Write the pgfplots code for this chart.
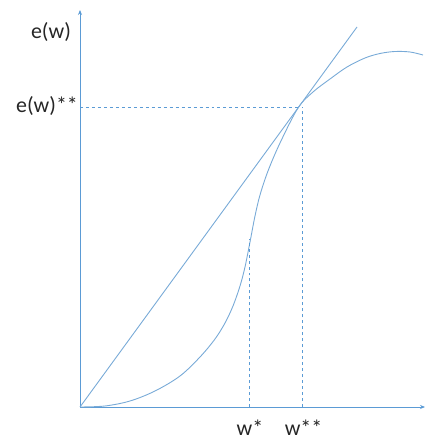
\documentclass[border=0pt]{standalone}
\usepackage{pgfplots}
\pgfplotsset{compat=1.18}
\usepackage{fontspec}
\setmainfont{Carlito}
\usetikzlibrary{arrows.meta}
\definecolor{axblue}{RGB}{91,155,213}
\definecolor{crv}{RGB}{120,170,215}
\begin{document}
\begin{tikzpicture}
\begin{axis}[
  scale only axis, width=345bp, height=397bp,
  xmin=0, xmax=345, ymin=0, ymax=397,
  axis lines=left, clip=false,
  axis line style={draw=axblue, line width=0.8pt, -{Stealth[length=5pt,width=4pt]}},
  xtick=\empty, ytick=\empty,
]
\path (axis cs:-80,-33) rectangle (axis cs:352,407);
% tangent line
\addplot[crv, line width=0.9pt] coordinates {(0,0) (277,380)};
% S curve
\addplot[crv, line width=0.9pt, smooth, tension=0.55] coordinates {
(0,0) (25,1) (50,6) (75,16) (100,31) (120,50) (135,68) (145,84) (153,101) (160,121) (165,140) (170,165) (175,191) (180,212) (188,236) (200,264) (218,299) (233,315) (250,328) (267,340) (285,349) (300,353.5) (315,355.5) (330,355) (343,352)
};
% dashed guides
\addplot[axblue, line width=0.7pt, dashed] coordinates {(0,300) (221,300)};
\addplot[axblue, line width=0.7pt, dashed] coordinates {(222,0) (222,300)};
\addplot[axblue, line width=0.7pt, dashed] coordinates {(169,0) (169,168)};
% labels
\node[font=\fontsize{22}{22}\selectfont, text=black!85] at (axis cs:-29,375) {e(w)};
\node[font=\fontsize{22}{22}\selectfont, text=black!85] at (axis cs:-33,301) {e(w)**};
\node[font=\fontsize{22}{22}\selectfont, text=black!85, anchor=base] at (axis cs:170,-28) {w*};
\node[font=\fontsize{22}{22}\selectfont, text=black!85, anchor=base] at (axis cs:223.5,-28) {w**};
\end{axis}
\end{tikzpicture}
\end{document}
